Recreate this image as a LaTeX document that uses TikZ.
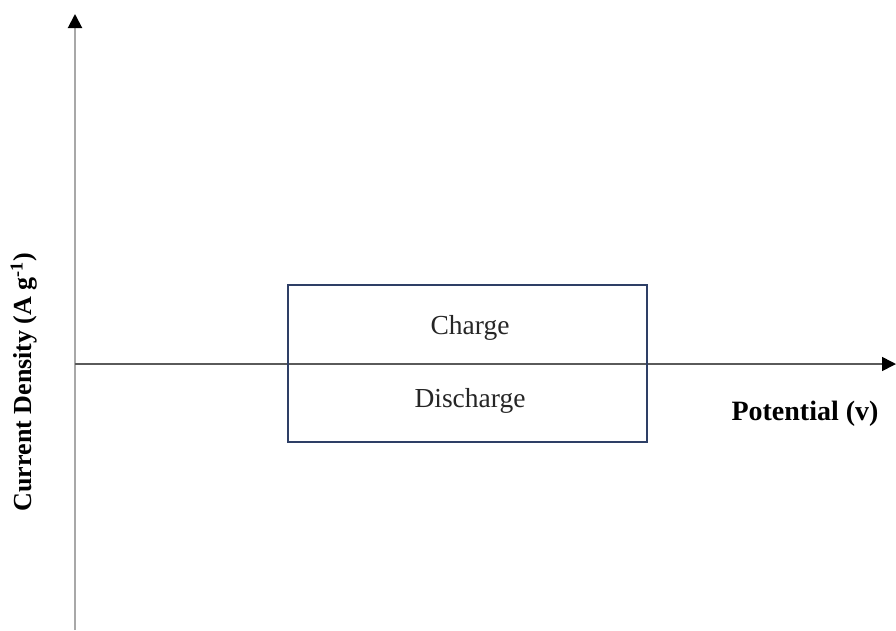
\documentclass[tikz,border=0pt]{standalone}
\usepackage{fontspec}
\setmainfont{Liberation Serif}
\usetikzlibrary{arrows.meta}
\definecolor{boxblue}{HTML}{2E3F66}
\definecolor{axdark}{HTML}{5A5A5A}
\definecolor{axlight}{HTML}{A8A8A8}
\begin{document}
\begin{tikzpicture}[x=1pt,y=-1pt,
  lbl/.style={font=\fontsize{27.5}{30}\selectfont, inner sep=0pt, text=black!85},
  blbl/.style={font=\fontsize{28}{30}\selectfont\bfseries, inner sep=0pt},
  arr/.style={-{Triangle[length=14pt,width=14pt,black]}, line width=1.6pt}]
\useasboundingbox (0,0) rectangle (896,630);
\coordinate (ybot) at (75,630);
\coordinate (ytop) at (75,14);
\coordinate (xl) at (75,364);
\coordinate (xr) at (896,364);
\draw[arr, axlight, line width=2pt] (ybot) -- (ytop);
\draw[arr, axdark] (xl) -- (xr);
\node[draw=boxblue, line width=2pt, minimum width=359pt, minimum height=157pt, inner sep=0pt] (box) at (467.5,363.5) {};
\node[lbl] (charge) at (470,328) {Charge};
\node[lbl] (discharge) at (470,401) {Discharge};
\node[blbl] (pot) at (805,414) {Potential (v)};
\node[blbl, rotate=90, font=\fontsize{26}{30}\selectfont\bfseries] (cd) at (24,382) {Current Density (A g\textsuperscript{-1})};
\end{tikzpicture}
\end{document}
